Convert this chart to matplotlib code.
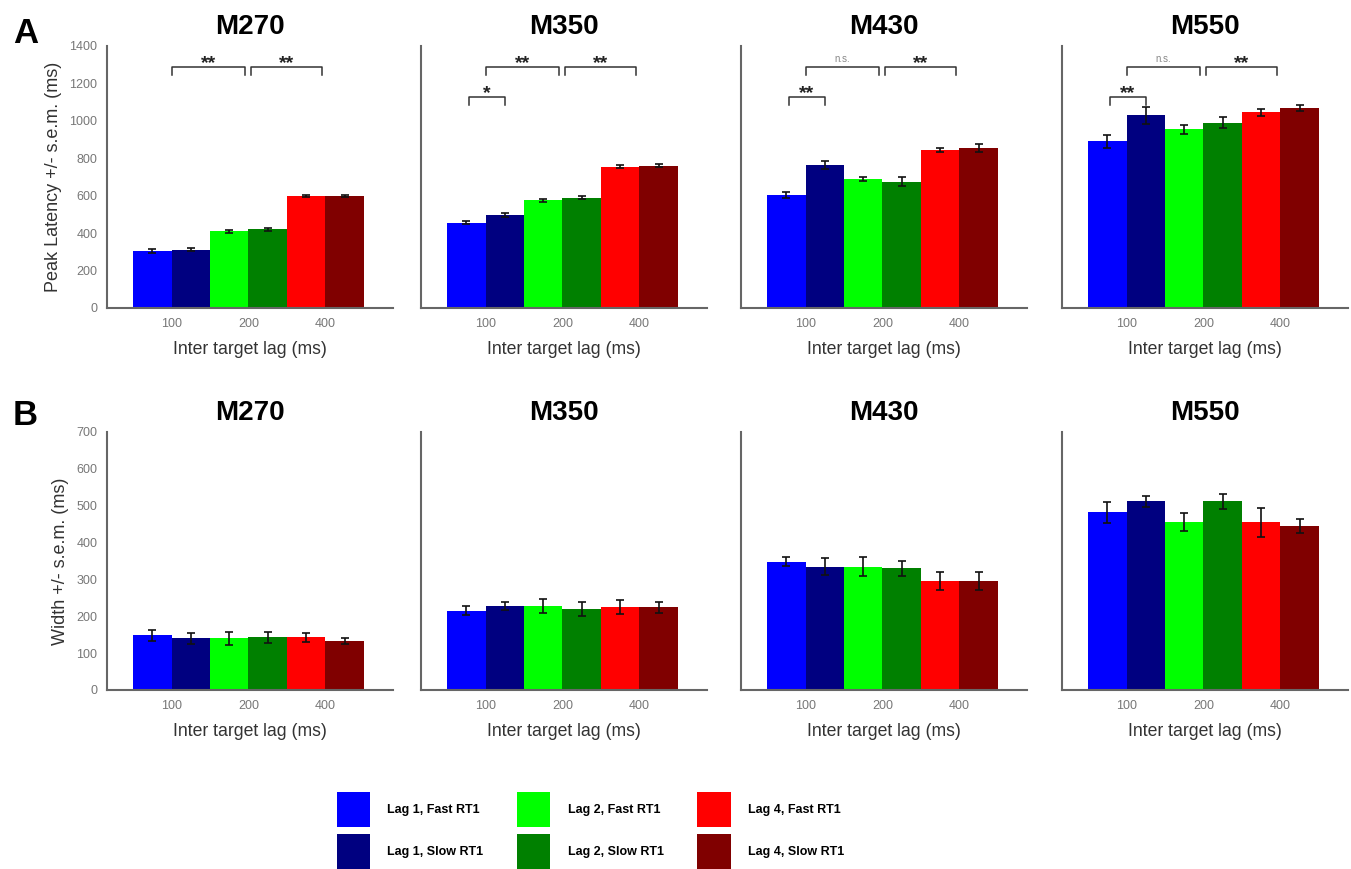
import numpy as np
import matplotlib
matplotlib.use("Agg")
import matplotlib.pyplot as plt
from matplotlib.patches import Patch

plt.rcParams['font.family'] = ['Liberation Sans', 'DejaVu Sans']

# data
components = ['M270', 'M350', 'M430', 'M550']
lag_labels = ['100', '200', '400']
conditions = ['Lag 1, Fast RT1', 'Lag 1, Slow RT1', 'Lag 2, Fast RT1',
              'Lag 2, Slow RT1', 'Lag 4, Fast RT1', 'Lag 4, Slow RT1']
colors = ['#0000ff', '#000080', '#00ff00', '#008000', '#ff0000', '#800000']

# peak latency (ms)
lat_m270 = [305, 312, 410, 420, 598, 598]
lat_m350 = [455, 495, 575, 590, 755, 760]
lat_m430 = [605, 765, 690, 675, 843, 855]
lat_m550 = [890, 1030, 955, 990, 1045, 1070]
lat_err_m270 = [10, 8, 8, 6, 6, 6]
lat_err_m350 = [8, 10, 8, 10, 8, 8]
lat_err_m430 = [15, 20, 12, 25, 10, 20]
lat_err_m550 = [35, 45, 25, 30, 20, 15]

# width (ms)
wid_m270 = [148, 140, 140, 143, 143, 132]
wid_m350 = [215, 228, 228, 220, 225, 225]
wid_m430 = [348, 335, 335, 330, 295, 295]
wid_m550 = [482, 512, 456, 512, 455, 445]
wid_err_m270 = [15, 15, 18, 15, 12, 8]
wid_err_m350 = [12, 12, 18, 18, 18, 15]
wid_err_m430 = [12, 22, 25, 20, 25, 25]
wid_err_m550 = [28, 15, 25, 20, 40, 20]

# significance labels (latency only)
sig_lag1_fast_slow = [None, '*', '**', '**']
sig_lag1_vs_lag2 = ['**', '**', 'n.s.', 'n.s.']
sig_lag2_vs_lag4 = ['**', '**', '**', '**']

lat_means = [lat_m270, lat_m350, lat_m430, lat_m550]
lat_errs = [lat_err_m270, lat_err_m350, lat_err_m430, lat_err_m550]
wid_means = [wid_m270, wid_m350, wid_m430, wid_m550]
wid_errs = [wid_err_m270, wid_err_m350, wid_err_m430, wid_err_m550]

W, H = 1351, 869
fig = plt.figure(figsize=(W / 100, H / 100), dpi=100)

lefts = [107, 421, 741, 1062]
ax_w = 286
groups = np.array([1, 2, 3])
bar_w = 0.5
xpos = np.repeat(groups, 2) + np.tile([-0.25, 0.25], 3)

axis_grey = '#666666'
tick_grey = '#777777'


def bracket(ax, x0, x1, y, label, drop):
    ax.plot([x0, x0, x1, x1], [y - drop, y, y, y - drop], color='#333333',
            lw=1.1, clip_on=False)
    if label == 'n.s.':
        ax.text((x0 + x1) / 2, y + 12, label, ha='center', va='bottom',
                fontsize=7, color='#888888')
    else:
        ax.text((x0 + x1) / 2, y - 30, label, ha='center', va='bottom',
                fontsize=14, fontweight='bold', color='#222222')


def style_axes(ax, first, ymax, step, ylabel):
    ax.set_xlim(0.16, 3.88)
    ax.set_ylim(0, ymax)
    ax.set_xticks(groups)
    ax.set_xticklabels(lag_labels)
    ax.set_yticks(np.arange(0, ymax + 1, step))
    for s in ['top', 'right']:
        ax.spines[s].set_visible(False)
    for s in ['left', 'bottom']:
        ax.spines[s].set_color(axis_grey)
        ax.spines[s].set_linewidth(1.5)
    ax.tick_params(length=0, labelsize=9, labelcolor=tick_grey, pad=7)
    ax.set_xlabel('Inter target lag (ms)', fontsize=12.7, color='#333333',
                  labelpad=8)
    if first:
        ax.set_ylabel(ylabel, fontsize=13, color='#333333', labelpad=5)
    else:
        ax.set_yticklabels([])


for row, (means, errs) in enumerate([(lat_means, lat_errs), (wid_means, wid_errs)]):
    if row == 0:
        bottom_px, height_px, ymax, step = 308, 262, 1400, 200
        ylabel = 'Peak Latency +/- s.e.m. (ms)'
    else:
        bottom_px, height_px, ymax, step = 690, 258, 700, 100
        ylabel = 'Width +/- s.e.m. (ms)'
    for col in range(4):
        ax = fig.add_axes([lefts[col] / W, 1 - bottom_px / H, ax_w / W, height_px / H])
        style_axes(ax, col == 0, ymax, step, ylabel)
        ax.bar(xpos, means[col], width=bar_w, color=colors, edgecolor='none')
        ax.errorbar(xpos, means[col], yerr=errs[col], fmt='none', ecolor='#111111',
                    elinewidth=1.2, capsize=3, capthick=1.2)
        ax.set_title(components[col], fontsize=20, fontweight='bold', pad=9)
        if row == 0:
            bracket(ax, 1.0, 1.95, 1290, sig_lag1_vs_lag2[col], 45)
            bracket(ax, 2.03, 2.95, 1290, sig_lag2_vs_lag4[col], 45)
            if sig_lag1_fast_slow[col]:
                bracket(ax, 0.78, 1.25, 1130, sig_lag1_fast_slow[col], 45)

fig.text(13 / W, 1 - 43 / H, 'A', fontsize=25, fontweight='bold', va='baseline')
fig.text(13 / W, 1 - 425 / H, 'B', fontsize=25, fontweight='bold', va='baseline')

handles = [Patch(facecolor=c, edgecolor='none') for c in colors]
fig.legend(handles, conditions, ncol=3, loc='center', bbox_to_anchor=(0.437, 0.044),
           frameon=False, prop={'size': 9, 'weight': 'bold'},
           handlelength=2.65, handleheight=3.93, handletextpad=1.4,
           labelspacing=0.55, columnspacing=2.7, borderpad=0)

fig.savefig('out.png', dpi=100)
